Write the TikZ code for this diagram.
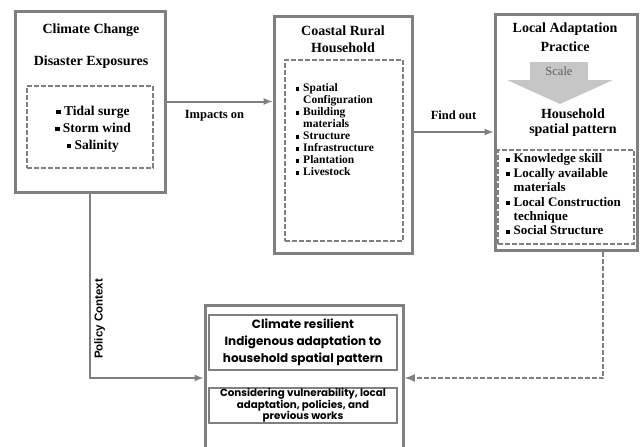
\documentclass[tikz,border=0pt]{standalone}
\usepackage{fontspec}
\setmainfont{Liberation Serif}
\newfontfamily\geofont{Poppins}
\newfontfamily\arialfont{Liberation Sans}
\usetikzlibrary{arrows}
\definecolor{boxgray}{RGB}{128,128,128}
\definecolor{arrowgray}{RGB}{198,198,198}
\definecolor{scalegray}{RGB}{95,95,95}
\newcommand\bul{\rule[0.2ex]{0.7ex}{0.7ex}}

\begin{document}
\begin{tikzpicture}[x=1pt, y=-1pt, >=latex,
	box/.style={draw=boxgray, line width=3pt, inner sep=0pt},
	dbox/.style={draw=boxgray, line width=2.5pt, dash pattern=on 5pt off 2pt, inner sep=0pt},
	ibox/.style={draw=boxgray, line width=2.5pt, inner sep=0pt},
	ttl/.style={font=\fontsize{14}{17}\selectfont\bfseries, align=center},
	lst/.style={font=\fontsize{11.5}{12}\selectfont\bfseries, align=left},
	lnk/.style={draw=boxgray, line width=2pt}]
					\useasboundingbox (0,0) rectangle (641,447);
					\node[box, minimum width=150pt, minimum height=181pt] (clim) at (90,101.5) {};
					\node[dbox, minimum width=126pt, minimum height=82pt] (climin) at (90,127) {};
					\node[ttl] (climt) at (91,30) {Climate Change};
					\node[ttl] (climt2) at (91,62) {Disaster Exposures};
					\node[ttl, font=\fontsize{13.5}{17}\selectfont\bfseries] (climl) at (93,129) {\bul\ Tidal surge\\ \bul\ Storm wind\\ \bul\ Salinity};
					\node[box, minimum width=138pt, minimum height=237pt] (hh) at (343,134.5) {};
					\node[dbox, minimum width=118pt, minimum height=181pt] (hhin) at (344,150.5) {};
					\node[ttl] (hht) at (343,39.5) {Coastal Rural\\Household};
					\node[lst, anchor=west] (hhl) at (292,131.5) {\begin{tabular}{@{}l@{\hspace{4pt}}l@{}}
						\bul & Spatial\\ & Configuration\\ \bul & Building\\ & materials\\ \bul & Structure\\
						\bul & Infrastructure\\ \bul & Plantation\\ \bul & Livestock\end{tabular}};
					\node[box, minimum width=142pt, minimum height=236pt] (lap) at (566,132) {};
					\node[dbox, minimum width=136pt, minimum height=94pt] (lapin) at (566,197) {};
					\node[ttl, font=\fontsize{14}{19}\selectfont\bfseries] (lapt) at (565,37) {Local Adaptation\\Practice};
					\fill[arrowgray] (530,62) -- (588,62) -- (588,80) -- (613,80) -- (560,104) -- (507,80) -- (530,80) -- cycle;
					\node[font=\fontsize{12.5}{13}\selectfont, text=scalegray] (scale) at (559,71) {Scale};
					\node[ttl, font=\fontsize{14}{15}\selectfont\bfseries] (lapt2) at (573,122.5) {Household\\spatial pattern};
					\node[lst, anchor=west, font=\fontsize{13}{14.4}\selectfont\bfseries] (lapl) at (502,196) {\begin{tabular}{@{}l@{\hspace{4pt}}l@{}}
						\bul & Knowledge skill\\ \bul & Locally available\\ & materials\\ \bul & Local Construction\\
						& technique\\ \bul & Social Structure\end{tabular}};
					\node[box, minimum width=198pt, minimum height=146pt] (res) at (304,378) {};
					\node[ibox, minimum width=188pt, minimum height=55pt, font=\geofont\fontsize{12}{17}\selectfont\bfseries, align=center] (resa) at (303,342.5) {Climate resilient\\Indigenous adaptation to\\household spatial pattern};
					\node[ibox, minimum width=188pt, minimum height=35pt, font=\geofont\fontsize{10.3}{11}\selectfont\bfseries, align=center] (resb) at (303,405.5) {Considering vulnerability, local\\adaptation, policies, and\\previous works};
					\draw[lnk, ->] (clim) -- (clim -| hh.west) node[midway, below=4pt, xshift=-5pt, font=\fontsize{12.5}{13}\selectfont\bfseries] (imp) {Impacts on};
					\draw[lnk, ->] (hh.east |- lap.west) -- (lap.west) node[midway, above=8pt, font=\fontsize{12.5}{13}\selectfont\bfseries] (find) {Find out};
					\draw[lnk, ->] (clim.south) |- (res.west) node[pos=0.34, rotate=90, anchor=north, font=\arialfont\fontsize{11.5}{12}\selectfont\bfseries] (pol) {Policy Context};
					\draw[lnk, ->, line width=2.5pt, dash pattern=on 5pt off 2pt] ([xshift=37pt]lap.south) |- (res.east);
				\end{tikzpicture}
\end{document}
